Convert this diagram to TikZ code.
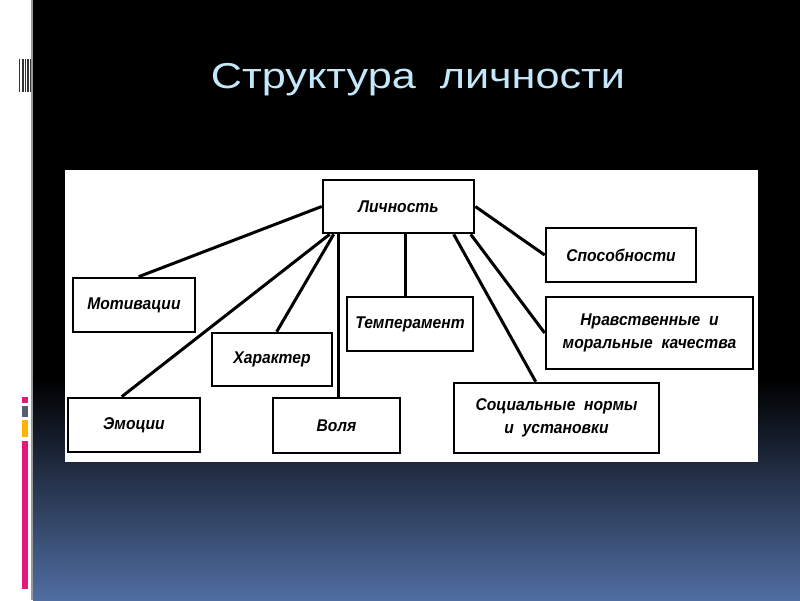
\documentclass[tikz,border=0pt]{standalone}
\usepackage{fontspec}
\setmainfont{Liberation Sans}
\newfontfamily\titlefont[FakeStretch=1.2]{Liberation Sans}
\newfontfamily\boxfont[FakeStretch=0.92]{Liberation Sans}
\definecolor{figT}{RGB}{196,232,250}
\definecolor{figS}{RGB}{80,110,162}
\definecolor{figM}{RGB}{228,24,120}
\definecolor{figG}{RGB}{84,94,112}
\definecolor{figO}{RGB}{252,180,0}

\begin{document}
\begin{tikzpicture}[x=1pt,y=-1pt,
  box/.style={draw,line width=2.6pt,fill=white,inner sep=0pt,align=center,font=\boxfont\fontsize{17}{23}\selectfont\bfseries\itshape},
  link/.style={line width=3pt}]
\useasboundingbox (0,0) rectangle (800,600);
% slide background
\fill[white] (0,0) rectangle (800,600);
\fill[black] (33,0) rectangle (800,380);
\shade[top color=black,bottom color=figS] (33,380) rectangle (800,600);
\fill[black!40] (31,0) rectangle (33,600);
\foreach \x/\w in {19/1.2,21.5/2,24.5/1,26.5/2.5,29.5/1} \fill[black!80] (\x,59) rectangle ++(\w,33);
\fill[figM] (22,397) rectangle (28,403);
\fill[figG] (22,406) rectangle (28,417);
\fill[figO] (22,420) rectangle (28,437);
\fill[figM] (22,441) rectangle (28,589);
\node[font=\titlefont\fontsize{36}{42}\selectfont,text=figT,anchor=base] (title) at (418,88) {Структура\ \ личности};
\fill[white] (65,170) rectangle (758,462);
% boxes
\node[box,minimum width=151pt,minimum height=53pt] (lich) at (398.5,206.5) {Личность};
\node[box,minimum width=150pt,minimum height=54pt] (spos) at (621,255) {Способности};
\node[box,minimum width=207pt,minimum height=72pt] (nrav) at (649.5,333) {Нравственные\ \ и\\моральные\ \ качества};
\node[box,minimum width=122pt,minimum height=54pt] (motiv) at (134,305) {Мотивации};
\node[box,minimum width=126pt,minimum height=54pt] (temp) at (410,324) {Темперамент};
\node[box,minimum width=120pt,minimum height=53pt] (hark) at (272,359.5) {Характер};
\node[box,minimum width=132pt,minimum height=54pt] (emoc) at (134,425) {Эмоции};
\node[box,minimum width=127pt,minimum height=55pt] (vola) at (336.5,425.5) {Воля};
\node[box,minimum width=205pt,minimum height=70pt] (soc) at (556.5,418) {Социальные\ \ нормы\\и\ \ установки};
% links
\draw[link] (lich.west) -- ([xshift=67pt]motiv.north west);
\draw[link] ([xshift=8pt]lich.south west) -- ([xshift=55pt]emoc.north west);
\draw[link] ([xshift=12pt]lich.south west) -- ([xshift=66pt]hark.north west);
\coordinate (v1) at ([xshift=17pt]lich.south west);
\draw[link] (v1) -- (v1 |- vola.north);
\coordinate (v2) at ([xshift=84pt]lich.south west);
\draw[link] (v2) -- (v2 |- temp.north);
\draw[link] ([xshift=132pt]lich.south west) -- ([xshift=83pt]soc.north west);
\draw[link] ([xshift=149pt]lich.south west) -- (nrav.west);
\draw[link] (lich.east) -- (spos.west);
\end{tikzpicture}
\end{document}
